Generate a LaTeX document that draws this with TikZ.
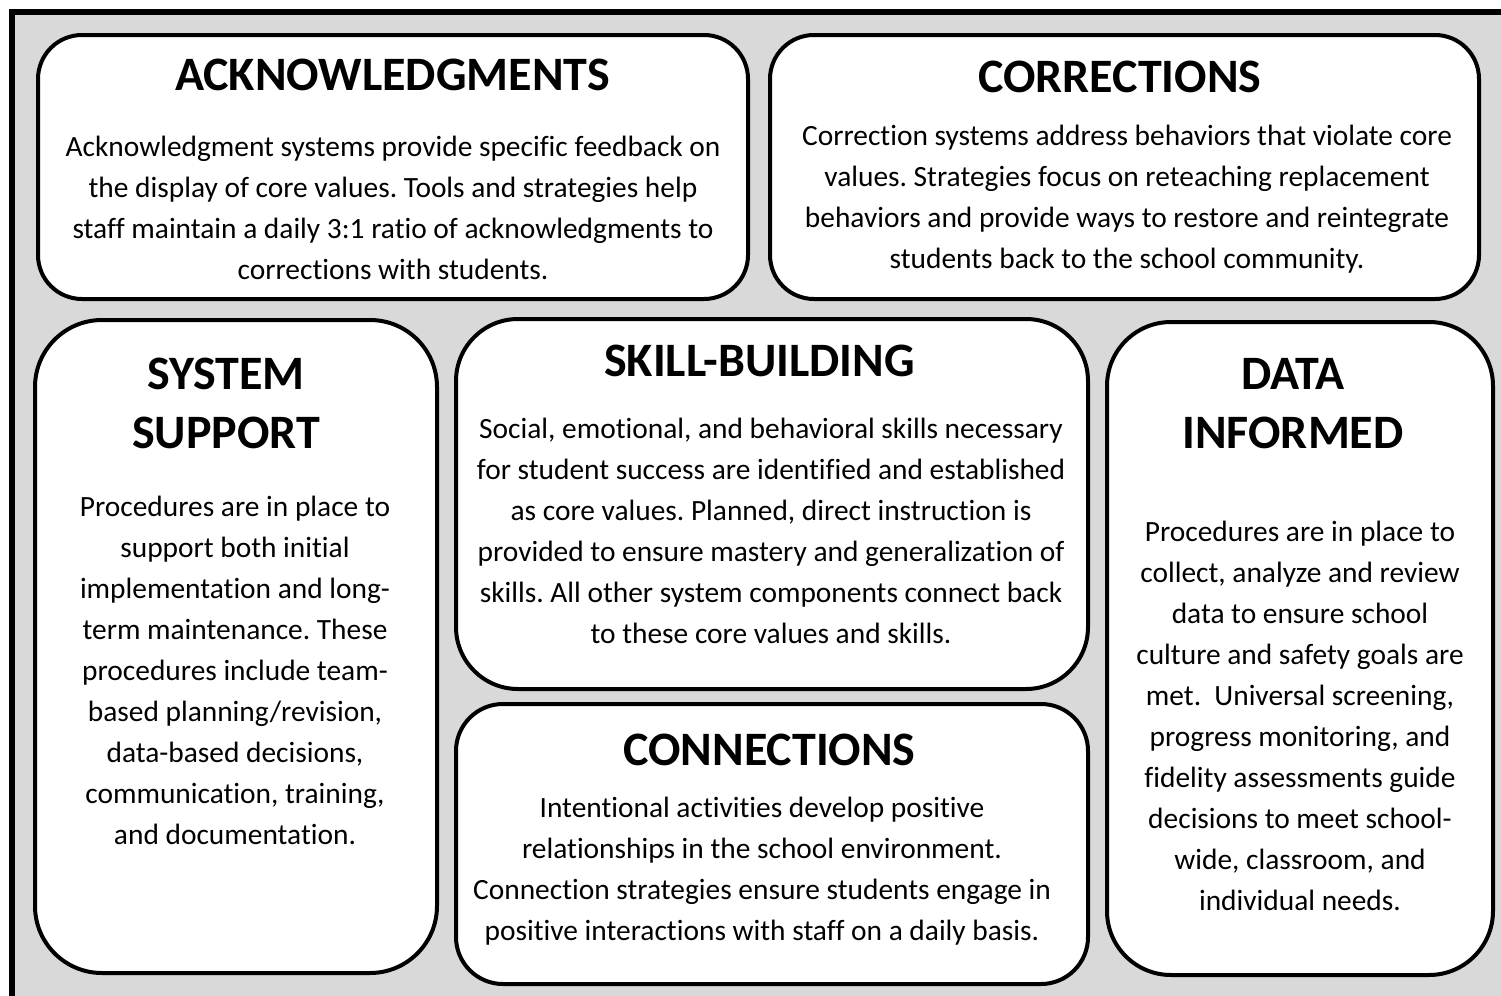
\documentclass[tikz,border=0pt]{standalone}
\usepackage{fontspec}
\setmainfont{Carlito}[Ligatures=NoCommon]
\frenchspacing
\definecolor{panelgray}{HTML}{D9D9D9}
\tikzset{
  panel/.style={draw, line width=2pt, fill=white, inner sep=0pt},
  head/.style={font=\fontsize{24}{29.5}\selectfont\bfseries, align=center, inner sep=0pt},
  body/.style={font=\fontsize{14.7}{20.5}\selectfont, align=center, inner sep=0pt}
}

\begin{document}
\begin{tikzpicture}[x=0.5pt, y=-0.5pt]
  \useasboundingbox (0,0) rectangle (1501,996);
  \clip (0,0) rectangle (1501,996);

  % Frame
  \fill [panelgray] (12,12) rectangle (1530,1030);
  \draw [line width=3pt] (12,1030) -- (12,12) -- (1530,12);

  % Panels
  \node [panel, minimum width=355pt, minimum height=132pt, rounded corners=22pt] (ack) at (393,167) {};
  \node [panel, minimum width=354.5pt, minimum height=132pt, rounded corners=22pt] (corr) at (1124.5,167) {};
  \node [panel, minimum width=201pt, minimum height=326.5pt, rounded corners=33.5pt] (sys) at (236,646.5) {};
  \node [panel, minimum width=316pt, minimum height=185pt, rounded corners=31pt] (skill) at (772,504) {};
  \node [panel, minimum width=316pt, minimum height=140pt, rounded corners=23.5pt] (conn) at (772,844) {};
  \node [panel, minimum width=193pt, minimum height=326.5pt, rounded corners=32pt] (data) at (1300,648.5) {};

  % Titles
  \node [head] (ackTitle) at (392.5,75) {ACKNOWLEDGMENTS};
  \node [head] (corrTitle) at (1120,77) {CORRECTIONS};
  \node [head] (sysTitle) at (226,403.5) {SYSTEM\\SUPPORT};
  \node [head] (skillTitle) at (759.5,361) {SKILL-BUILDING};
  \node [head] (connTitle) at (769.5,750) {CONNECTIONS};
  \node [head] (dataTitle) at (1293,403.5) {DATA\\INFORMED};

  % Texts
  \node [body] (ackText) at (393,208) {Acknowledgment systems provide specific feedback on\\
    the display of core values. Tools and strategies help\\
    staff maintain a daily 3:1 ratio of acknowledgments to\\
    corrections with students.};
  \node [body] (corrText) at (1127,199.5) {Correction systems address behaviors that violate core\\
    values. Strategies focus on reteaching replacement\\
    behaviors and provide ways to restore and reintegrate\\
    students back to the school community.};
  \node [body] (sysText) at (235,670) {Procedures are in place to\\
    support both initial\\
    implementation and long-\\
    term maintenance. These\\
    procedures include team-\\
    based planning/revision,\\
    data-based decisions,\\
    communication, training,\\
    and documentation.};
  \node [body] (skillText) at (771,531) {Social, emotional, and behavioral skills necessary\\
    for student success are identified and established\\
    as core values. Planned, direct instruction is\\
    provided to ensure mastery and generalization of\\
    skills. All other system components connect back\\
    to these core values and skills.};
  \node [body] (connText) at (762,871.5) {Intentional activities develop positive\\
    relationships in the school environment.\\
    Connection strategies ensure students engage in\\
    positive interactions with staff on a daily basis.};
  \node [body] (dataText) at (1300,715.5) {Procedures are in place to\\
    collect, analyze and review\\
    data to ensure school\\
    culture and safety goals are\\
    met.\ \ Universal screening,\\
    progress monitoring, and\\
    fidelity assessments guide\\
    decisions to meet school-\\
    wide, classroom, and\\
    individual needs.};
\end{tikzpicture}
\end{document}
